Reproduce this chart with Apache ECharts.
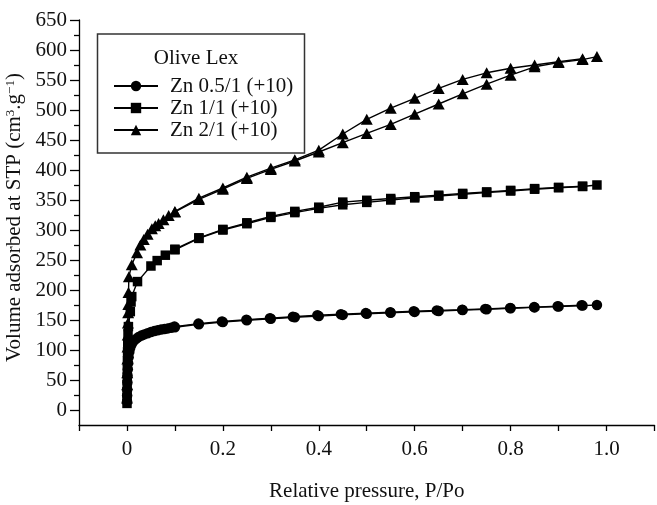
<!DOCTYPE html>
<html>
<head>
<meta charset="utf-8">
<script src="https://cdn.jsdelivr.net/npm/echarts@6/dist/echarts.min.js"></script>
<style>
  html, body { margin: 0; padding: 0; background: #fff; }
  #chart { width: 657px; height: 505px; }
</style>
</head>
<body>
<div id="chart"></div>
<script>
// N2 isotherms (adsorption + desorption branches) for the Olive Lex samples
const seriesNames = ['Zn 0.5/1 (+10)', 'Zn 1/1 (+10)', 'Zn 2/1 (+10)'];
const legendTitle = 'Olive Lex';
const xTickLabels = [0, 0.2, 0.4, 0.6, 0.8, 1.0];
const yTickLabels = [0, 50, 100, 150, 200, 250, 300, 350, 400, 450, 500, 550, 600, 650];
const yMinorTicks = [25, 75, 125, 175, 225, 275, 325, 375, 425, 475, 525, 575, 625];

// Zn 0.5/1 — circles
const zn05AdsP = [0.0002, 0.0004, 0.0006, 0.0009, 0.0013, 0.0018, 0.0025, 0.0035, 0.005, 0.007, 0.01, 0.014, 0.019, 0.024, 0.03, 0.036, 0.043, 0.05, 0.057, 0.064, 0.071, 0.078, 0.085, 0.092, 0.1, 0.15, 0.2, 0.25, 0.3, 0.35, 0.4, 0.45, 0.5, 0.55, 0.6, 0.65, 0.7, 0.75, 0.8, 0.85, 0.9, 0.95, 0.98];
const zn05AdsV = [14, 24, 34, 46, 57, 68, 78, 88, 97, 104, 110, 115, 118.5, 121.5, 124, 126, 128, 130, 131.5, 133, 134, 135, 136, 137, 138, 143, 146.5, 149.5, 152, 154.5, 156.5, 158.5, 160.5, 162, 163.5, 165, 166.5, 168, 169.5, 171, 172.5, 174, 175];
const zn05DesP = [0.948, 0.898, 0.849, 0.799, 0.747, 0.699, 0.646, 0.598, 0.549, 0.498, 0.446, 0.397, 0.346, 0.298, 0.249, 0.198, 0.149, 0.099];
const zn05DesV = [174.5, 173, 171.5, 170, 168.5, 167, 166, 164.5, 163, 161.5, 159.5, 158, 155.5, 153, 150.5, 147.5, 144, 139];

// Zn 1/1 — squares
const zn11AdsP = [0.0001, 0.0002, 0.0003, 0.0004, 0.0006, 0.0008, 0.001, 0.0013, 0.0017, 0.0022, 0.003, 0.007, 0.0085, 0.01, 0.022, 0.05, 0.063, 0.08, 0.1, 0.15, 0.2, 0.25, 0.3, 0.35, 0.4, 0.45, 0.5, 0.55, 0.6, 0.65, 0.7, 0.75, 0.8, 0.85, 0.9, 0.95, 0.98];
const zn11AdsV = [11, 20, 30, 42, 55, 68, 82, 97, 112, 127, 139, 164, 180, 189, 214, 240, 249, 258, 267, 286, 300, 310.5, 321, 329, 336, 342, 346, 350, 353.5, 356.5, 359.5, 362.5, 365, 368, 370.5, 372.5, 375];
const zn11DesP = [0.95, 0.9, 0.85, 0.8, 0.75, 0.7, 0.65, 0.6, 0.55, 0.5, 0.45, 0.4, 0.35, 0.3, 0.25, 0.2, 0.15, 0.1];
const zn11DesV = [373, 371, 369, 366, 363.5, 361, 358, 355.5, 352.5, 349.5, 346.5, 338, 331, 322.5, 312, 301, 287, 268];

// Zn 2/1 — triangles
const zn21AdsP = [0.0002, 0.0004, 0.0006, 0.0009, 0.0012, 0.0016, 0.002, 0.0025, 0.0028, 0.0032, 0.004, 0.01, 0.021, 0.028, 0.035, 0.043, 0.052, 0.059, 0.066, 0.076, 0.087, 0.1, 0.15, 0.2, 0.25, 0.3, 0.35, 0.4, 0.45, 0.5, 0.55, 0.6, 0.65, 0.7, 0.75, 0.8, 0.85, 0.9, 0.95, 0.98];
const zn21AdsV = [20, 42, 62, 85, 105, 125, 145, 162, 176, 196, 222, 242, 262, 275, 284, 293, 302, 307, 311, 317, 324, 330, 351, 368, 386, 401, 415, 430, 445.5, 461, 476, 493, 510, 527, 543, 558, 572, 579, 584, 589];
const zn21DesP = [0.95, 0.9, 0.85, 0.8, 0.75, 0.7, 0.65, 0.6, 0.55, 0.5, 0.45, 0.4, 0.35, 0.3, 0.25, 0.2, 0.15, 0.1];
const zn21DesV = [585.5, 580.5, 575, 569.5, 562, 551, 536, 519.5, 503, 484.5, 460, 433, 417, 403, 388, 370, 353, 331];

const FONT = '"Liberation Serif", "Times New Roman", serif';
const FS = 21;
const INK = '#111';

function pairs(p, v) {
  return p.map((x, i) => [x, v[i]]);
}

function branch(name, symbol, size, p, v) {
  return {
    name: name,
    type: 'line',
    data: pairs(p, v),
    symbol: symbol,
    symbolSize: size,
    showSymbol: true,
    showAllSymbol: true,
    lineStyle: { color: '#000', width: 1.4 },
    itemStyle: { color: '#000', borderWidth: 0 },
    emphasis: { disabled: true },
    animation: false
  };
}

const chart = echarts.init(document.getElementById('chart'), null, { renderer: 'canvas' });

chart.setOption({
  backgroundColor: '#fff',
  animation: false,
  grid: { left: 79, right: 2.5, top: 20, bottom: 80, containLabel: false, outerBoundsMode: 'none' },
  xAxis: {
    type: 'value',
    min: -0.1,
    max: 1.1,
    interval: 0.1,
    name: 'Relative pressure, P/Po',
    nameLocation: 'middle',
    nameGap: 56,
    nameTextStyle: { fontFamily: FONT, fontSize: FS, color: INK },
    axisLine: { show: true, onZero: false, lineStyle: { color: '#000', width: 1.3 } },
    axisTick: { show: true, length: 6, lineStyle: { color: '#000', width: 1.3 } },
    axisLabel: {
      customValues: xTickLabels,
      margin: 14,
      fontFamily: FONT,
      fontSize: FS,
      color: INK,
      formatter: function (v) { return Math.abs(v) < 1e-9 ? '0' : v.toFixed(1); }
    },
    splitLine: { show: false }
  },
  yAxis: [
    {
      type: 'value',
      min: -25,
      max: 650,
      interval: 25,
      position: 'left',
      name: 'Volume adsorbed at STP (cm{sup|3}.g{sup|\u22121})',
      nameLocation: 'middle',
      nameGap: 46,
      nameRotate: 90,
      nameTextStyle: {
        fontFamily: FONT, fontSize: FS, color: INK,
        padding: [0, 0, 0, 10],
        rich: { sup: { fontFamily: FONT, fontSize: 13, color: INK, verticalAlign: 'top', lineHeight: 12 } }
      },
      axisLine: { show: true, onZero: false, lineStyle: { color: '#000', width: 1.3 } },
      axisTick: { show: true, length: 9, customValues: yTickLabels, lineStyle: { color: '#000', width: 1.3 } },
      axisLabel: { customValues: yTickLabels, margin: 12, fontFamily: FONT, fontSize: FS, color: INK },
      splitLine: { show: false }
    },
    {
      // minor ticks halfway between the labelled values
      type: 'value',
      min: -25,
      max: 650,
      interval: 25,
      position: 'left',
      offset: 0,
      axisLine: { show: false, onZero: false },
      axisTick: { show: true, length: 5, customValues: yMinorTicks, lineStyle: { color: '#000', width: 1.3 } },
      axisLabel: { show: false },
      splitLine: { show: false }
    }
  ],
  legend: {
    orient: 'vertical',
    left: 113,
    top: 75.5,
    padding: 0,
    itemWidth: 44,
    itemHeight: 13,
    itemGap: 1,
    selectedMode: false,
    data: seriesNames,
    textStyle: { fontFamily: FONT, fontSize: FS, color: INK, padding: [0, 0, 0, 7] }
  },
  graphic: [
    {
      type: 'rect',
      shape: { x: 97.5, y: 34, width: 207, height: 119 },
      style: { fill: 'none', stroke: '#333', lineWidth: 1.5 },
      z: 100
    },
    {
      type: 'text',
      x: 196,
      y: 58,
      style: { text: legendTitle, fontFamily: FONT, fontSize: FS, fill: INK, align: 'center', verticalAlign: 'middle' },
      z: 100
    }
  ],
  series: [
    branch(seriesNames[0], 'circle', 10.5, zn05AdsP, zn05AdsV),
    branch(seriesNames[0], 'circle', 10.5, zn05DesP, zn05DesV),
    branch(seriesNames[1], 'rect', 9.5, zn11AdsP, zn11AdsV),
    branch(seriesNames[1], 'rect', 9.5, zn11DesP, zn11DesV),
    branch(seriesNames[2], 'triangle', [12, 11], zn21AdsP, zn21AdsV),
    branch(seriesNames[2], 'triangle', [12, 11], zn21DesP, zn21DesV)
  ]
});
</script>
</body>
</html>
